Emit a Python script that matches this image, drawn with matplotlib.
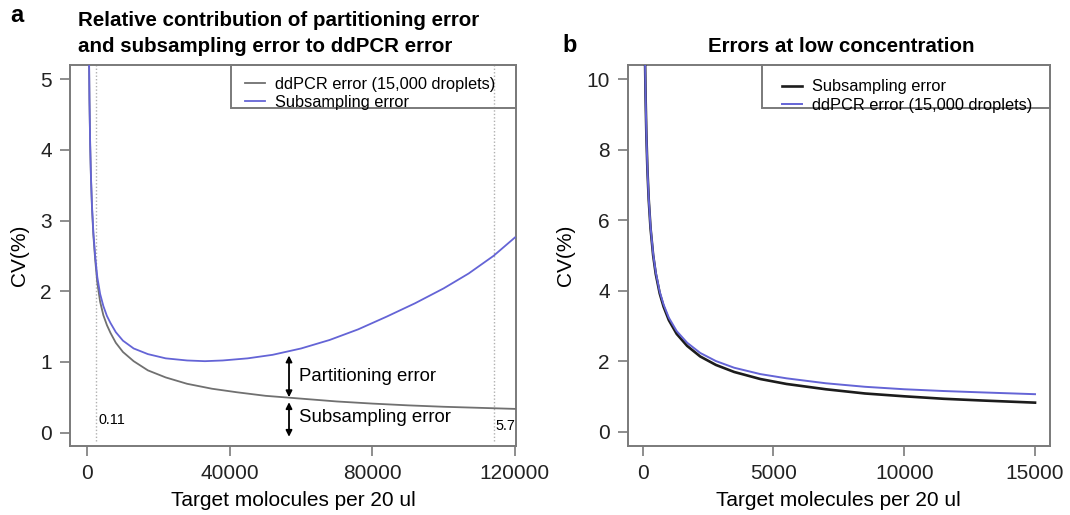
import matplotlib.pyplot as plt
from matplotlib.patches import Rectangle

plt.rcParams['font.family'] = ['Liberation Sans', 'DejaVu Sans']

# panel a: values (x = target molecules per 20 ul, y = CV %)
a_gray_x = [450, 600, 800, 1000, 1300, 1700, 2200, 2800, 3600, 4500, 5500, 6500, 8000,
            10000, 13000, 17000, 22000, 28000, 35000, 42000, 50000, 60000, 70000,
            80000, 90000, 100000, 110000, 120000]
a_gray_y = [5.45, 4.70, 4.07, 3.64, 3.19, 2.79, 2.45, 2.12, 1.85, 1.66, 1.52, 1.41, 1.27,
            1.14, 1.01, 0.88, 0.78, 0.69, 0.62, 0.57, 0.52, 0.48, 0.44,
            0.41, 0.385, 0.365, 0.35, 0.335]
a_blue_x = [450, 600, 800, 1000, 1300, 1700, 2200, 2800, 3600, 4500, 5500, 6500, 8000,
            10000, 13000, 17000, 22000, 28000, 33000, 38000, 45000, 52000, 60000,
            68000, 76000, 84000, 92000, 100000, 107000, 114000, 120000]
a_blue_y = [5.45, 4.72, 4.08, 3.66, 3.22, 2.83, 2.50, 2.20, 1.96, 1.79, 1.65, 1.55, 1.42,
            1.30, 1.19, 1.11, 1.05, 1.02, 1.01, 1.02, 1.05, 1.10, 1.19,
            1.31, 1.46, 1.64, 1.83, 2.04, 2.25, 2.50, 2.76]
a_vlines = [2400, 114000]
a_vline_labels = ['0.11', '5.7']
a_arrow_x = 56600
a_arrow_top = [1.09, 0.50]
a_arrow_bottom = [0.43, -0.06]

# panel b
b_black_x = [90, 110, 140, 180, 230, 300, 400, 500, 650, 800, 1000, 1300, 1700, 2200,
             2800, 3500, 4500, 5500, 7000, 8500, 10000, 11500, 13000, 15000]
b_black_y = [10.54, 9.53, 8.45, 7.45, 6.59, 5.77, 5.00, 4.47, 3.92, 3.54, 3.16, 2.77,
             2.43, 2.13, 1.89, 1.69, 1.49, 1.35, 1.20, 1.08, 1.00, 0.93, 0.88, 0.82]
b_blue_y = [10.56, 9.55, 8.48, 7.48, 6.62, 5.81, 5.04, 4.52, 3.97, 3.60, 3.23, 2.85,
            2.52, 2.23, 2.00, 1.81, 1.63, 1.51, 1.37, 1.27, 1.20, 1.15, 1.11, 1.06]

GRAY = '#707070'
BLUE = '#6464d6'
SPINE = '#7a7a7a'

fig = plt.figure(figsize=(10.7, 5.15), dpi=100)
ax1 = fig.add_axes([70 / 1070, 69 / 515, 446 / 1070, 381 / 515])
ax2 = fig.add_axes([627.7 / 1070, 69 / 515, 422.3 / 1070, 381 / 515])


def style(ax):
    for s in ax.spines.values():
        s.set_color(SPINE)
        s.set_linewidth(1.4)
    ax.tick_params(direction='out', length=7, width=1.2, color=SPINE,
                   labelsize=15, pad=6, labelcolor='#222222')


def legend_box(ax, frame_x0, frame_y0, text_x0, text_y0):
    # R style legend: framed box glued to the top right corner
    ax.add_patch(Rectangle((frame_x0, frame_y0), 1 - frame_x0, 1 - frame_y0,
                           transform=ax.transAxes, fill=False, edgecolor=SPINE,
                           lw=1.4, zorder=4, clip_on=False))
    ax.legend(loc='upper left', bbox_to_anchor=(text_x0, text_y0), borderaxespad=0,
              borderpad=0, fontsize=11.8, frameon=False, handlelength=1.22,
              handletextpad=0.6, labelspacing=0.2)


# ---- panel a
for xv in a_vlines:
    ax1.axvline(xv, ymin=0.012, ymax=1, color='#b0b0b0', lw=1,
                linestyle=(0, (1, 1.5)), zorder=1)
ax1.plot(a_gray_x, a_gray_y, color=GRAY, lw=1.3, label='ddPCR error (15,000 droplets)', zorder=3)
ax1.plot(a_blue_x, a_blue_y, color=BLUE, lw=1.3, label='Subsampling error', zorder=3)
ax1.text(a_vlines[0] + 600, 0.175, a_vline_labels[0], fontsize=10.4, va='center', ha='left')
ax1.text(a_vlines[1] + 400, 0.10, a_vline_labels[1], fontsize=10.4, va='center', ha='left')

arrow = dict(arrowstyle='<|-|>', color='black', lw=1.3, mutation_scale=9, shrinkA=0, shrinkB=0)
ax1.annotate('', xy=(a_arrow_x, a_arrow_top[0]), xytext=(a_arrow_x, a_arrow_top[1]), arrowprops=arrow)
ax1.annotate('', xy=(a_arrow_x, a_arrow_bottom[0]), xytext=(a_arrow_x, a_arrow_bottom[1]), arrowprops=arrow)
ax1.text(59500, 0.80, 'Partitioning error', fontsize=13.4, va='center', ha='left')
ax1.text(59500, 0.21, 'Subsampling error', fontsize=13.4, va='center', ha='left')

ax1.set_xlim(-4860, 120300)
ax1.set_ylim(-0.19, 5.2)
ax1.set_xticks([0, 40000, 80000, 120000])
ax1.set_yticks([0, 1, 2, 3, 4, 5])
style(ax1)
ax1.set_xlabel('Target molocules per 20 ul', fontsize=15, labelpad=6)
ax1.set_ylabel('CV(%)', fontsize=15, labelpad=8)
legend_box(ax1, 0.361, (446 - 108) / 381, (245 - 70) / 446, (446 - 76.5) / 381)

# ---- panel b
ax2.plot(b_black_x, b_black_y, color='#1c1c1c', lw=1.9, label='Subsampling error', zorder=3)
ax2.plot(b_black_x, b_blue_y, color=BLUE, lw=1.4, label='ddPCR error (15,000 droplets)', zorder=3)
ax2.set_xlim(-573, 15573)
ax2.set_ylim(-0.41, 10.4)
ax2.set_xticks([0, 5000, 10000, 15000])
ax2.set_yticks([0, 2, 4, 6, 8, 10])
style(ax2)
ax2.set_xlabel('Target molecules per 20 ul', fontsize=15, labelpad=6)
ax2.set_ylabel('CV(%)', fontsize=15, labelpad=8)
legend_box(ax2, 0.318, (446 - 108) / 381, (782 - 627.7) / 422.3, (446 - 79.5) / 381)

# titles and panel letters
fig.text(78 / 1070, 1 - 20 / 515, 'Relative contribution of partitioning error',
         fontsize=14.8, fontweight='bold', ha='left', va='center')
fig.text(78 / 1070, 1 - 47 / 515, 'and subsampling error to ddPCR error',
         fontsize=14.8, fontweight='bold', ha='left', va='center')
fig.text(841 / 1070, 1 - 47 / 515, 'Errors at low concentration',
         fontsize=14.8, fontweight='bold', ha='center', va='center')
fig.text(17 / 1070, 1 - 15 / 515, 'a', fontsize=17, fontweight='bold', ha='center', va='center')
fig.text(570 / 1070, 1 - 45 / 515, 'b', fontsize=17, fontweight='bold', ha='center', va='center')

fig.savefig('out.png', dpi=100)
